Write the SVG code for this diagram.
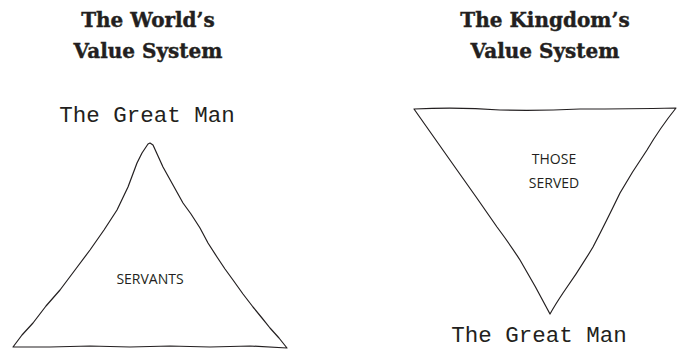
<svg xmlns="http://www.w3.org/2000/svg" width="677" height="349" viewBox="0 0 677 349">
<style>
.title{font-family:"DejaVu Serif","Liberation Serif",serif;font-weight:bold;font-size:20px;fill:#231f20;stroke:#231f20;stroke-width:0.4;text-anchor:middle}
.tw{font-family:"Liberation Mono","DejaVu Sans Mono",monospace;font-size:22.5px;fill:#231f20;text-anchor:middle}
.lbl{font-family:"Open Sans","Liberation Sans",sans-serif;font-size:14px;fill:#231f20;text-anchor:middle}
.tri{fill:none;stroke:#231f20;stroke-width:1.2;stroke-linejoin:round}
</style>
<rect width="677" height="349" fill="#ffffff"/>
<g id="world">
<text class="title" x="148" y="27">The World’s</text>
<text class="title" x="148" y="58">Value System</text>
<text class="tw" x="147" y="122">The Great Man</text>
<path class="tri" d="M150,143 L153,145 L158,156 L163,167 L173,185 L183,203 L191,214 L200,228 L208,243 L217,257 L225,269 L233,280 L243,294 L253,307 L262,318 L270,328 L279,338 L287,348 L250,346 L210,347 L170,346 L130,347 L90,346 L50,347 L13,347 L22,335 L33,323 L46,306 L60,290 L75,270 L90,250 L104,230 L117,210 L128,187 L137,163 L142,153 L148,144 Z"/>
<text class="lbl" x="150" y="284">SERVANTS</text>
</g>
<g id="kingdom">
<text class="title" x="545" y="27">The Kingdom’s</text>
<text class="title" x="545" y="58">Value System</text>
<text class="tw" x="539" y="342">The Great Man</text>
<path class="tri" d="M414,109 Q460,107 500,110 Q540,111 580,109 Q630,109 676,108 Q660,128 647,150 Q632,172 620,193 Q606,222 593,247 Q578,272 563,293 Q555,305 550,314 Q536,287 520,260 Q509,243 497,227 Q477,198 457,170 Q436,140 414,109 Z"/>
<text class="lbl" x="554" y="164">THOSE</text>
<text class="lbl" x="554" y="188">SERVED</text>
</g>
</svg>
